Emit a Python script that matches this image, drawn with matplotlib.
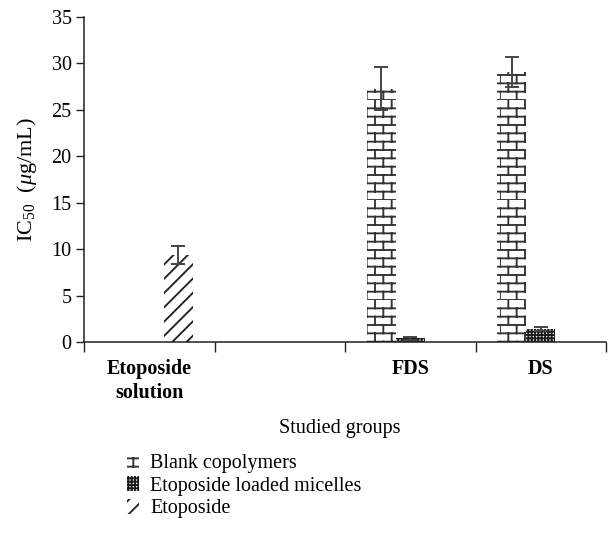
import warnings
import numpy as np
import matplotlib
matplotlib.use("Agg")
import matplotlib.pyplot as plt
from matplotlib import hatch as mhatch
from matplotlib.path import Path

warnings.filterwarnings("ignore")

# ---- data -------------------------------------------------------------
groups = ["Etoposide\nsolution", "", "FDS", "DS"]
series_names = ["Blank copolymers", "Etoposide loaded micelles", "Etoposide"]
blank = [np.nan, np.nan, 27.3, 29.1]
blank_err = [np.nan, np.nan, 2.3, 1.6]
micelles = [np.nan, np.nan, 0.4, 1.4]
micelles_err = [np.nan, np.nan, 0.15, 0.2]
etoposide = [9.4, np.nan, np.nan, np.nan]
etoposide_err = [0.95, np.nan, np.nan, np.nan]
y_ticks = [0, 5, 10, 15, 20, 25, 30, 35]


# ---- custom hatch patterns -------------------------------------------
class BrickHatch(mhatch.HatchPatternBase):
    """Running-bond brick wall, selected with the 'B' hatch character."""
    ROWS, COLS = 12, 6

    def __init__(self, hatch, density):
        self.on = "B" in hatch
        self.num_vertices = (2 * self.ROWS + 2 * self.ROWS * self.COLS) if self.on else 0

    def set_vertices_and_codes(self, vertices, codes):
        pts = []
        for r in range(self.ROWS):
            y0, y1 = r / self.ROWS, (r + 1) / self.ROWS
            pts += [(0.0, y0), (1.0, y0)]
            shift = 0.5 / self.COLS if r % 2 else 0.0
            for c in range(self.COLS):
                x = c / self.COLS + shift
                pts += [(x, y0), (x, y1)]
        vertices[:] = pts
        codes[0::2] = Path.MOVETO
        codes[1::2] = Path.LINETO


class WideDiagonalHatch(mhatch.HatchPatternBase):
    """Forward diagonal lines, selected with the 'D' hatch character."""
    LINES = 7

    def __init__(self, hatch, density):
        self.on = "D" in hatch
        self.num_vertices = (2 * self.LINES + 1) * 2 if self.on else 0

    def set_vertices_and_codes(self, vertices, codes):
        steps = np.arange(-self.LINES, self.LINES + 1) / self.LINES
        vertices[0::2, 0] = steps
        vertices[0::2, 1] = 0.0
        vertices[1::2, 0] = steps + 1.0
        vertices[1::2, 1] = 1.0
        codes[0::2] = Path.MOVETO
        codes[1::2] = Path.LINETO


mhatch._hatch_types.append(BrickHatch)
mhatch._hatch_types.append(WideDiagonalHatch)

# ---- style -------------------------------------------------------------
plt.rcParams["font.family"] = ["Liberation Serif", "DejaVu Serif"]
plt.rcParams["mathtext.fontset"] = "custom"
plt.rcParams["mathtext.rm"] = "Liberation Serif"
plt.rcParams["mathtext.it"] = "Liberation Serif:italic"
plt.rcParams["hatch.linewidth"] = 1.35

FS = 14.5
DPI = 100
fig = plt.figure(figsize=(6.08, 5.35), dpi=DPI)
ax = fig.add_axes([84 / 608, 1 - 342 / 535, (606 - 84) / 608, (342 - 17) / 535])

x = np.arange(len(groups))
w = 1 / 4.5  # three bars per group, gap of one and a half bar widths
hatch_col = "#333333"

b1 = ax.bar(x - w, blank, w, color="white", edgecolor=hatch_col, linewidth=0,
            hatch="B", label=series_names[0])
b2 = ax.bar(x, micelles, w, color="white", edgecolor="#1a1a1a", linewidth=0,
            hatch="+++++", label=series_names[1])
b3 = ax.bar(x + w, etoposide, w, color="white", edgecolor="#222222", linewidth=0,
            hatch="D", label=series_names[2])

for offset, vals, errs in [(-w, blank, blank_err), (0, micelles, micelles_err),
                           (w, etoposide, etoposide_err)]:
    v = np.array(vals, dtype=float)
    e = np.array(errs, dtype=float)
    ok = np.isfinite(v) & np.isfinite(e)
    ax.errorbar(x[ok] + offset, v[ok], yerr=e[ok], fmt="none", ecolor="#444444",
                elinewidth=1.4, capsize=5, capthick=1.4, zorder=5)

# ---- axes ----------------------------------------------------------------
ax.set_xlim(-0.5, len(groups) - 0.5)
ax.set_ylim(0, 35)
ax.set_yticks(y_ticks)
ax.tick_params(axis="y", direction="out", length=6, width=1, labelsize=FS,
               pad=3, color="#222222")
ax.set_xticks(np.arange(len(groups) + 1) - 0.5)
ax.set_xticklabels([])
ax.tick_params(axis="x", which="major", direction="out", length=7, width=1,
               color="#222222")
ax.set_xticks(x, minor=True)
ax.set_xticklabels(groups, minor=True, fontweight="bold", fontsize=FS,
                   linespacing=1.3)
ax.tick_params(axis="x", which="minor", length=0, pad=12)

for s in ["top", "right"]:
    ax.spines[s].set_visible(False)
for s in ["left", "bottom"]:
    ax.spines[s].set_linewidth(1.1)
    ax.spines[s].set_color("#222222")

fig.text(27 / 608, 1 - 180 / 535, r"IC$_{50}$  ($\mathit{\mu}$g/mL)", rotation=90,
         ha="center", va="center", fontsize=FS + 1.5)
fig.text(340 / 608, 1 - 428 / 535, "Studied groups", ha="center", va="center",
         fontsize=FS)

fig.legend(handles=[b1, b2, b3], loc="upper left",
           bbox_to_anchor=(127 / 608, 1 - 454 / 535), frameon=False,
           fontsize=FS, handlelength=0.6, handleheight=0.75,
           handletextpad=0.55, labelspacing=0.15, borderaxespad=0, borderpad=0)

fig.savefig("out.png", dpi=DPI)
